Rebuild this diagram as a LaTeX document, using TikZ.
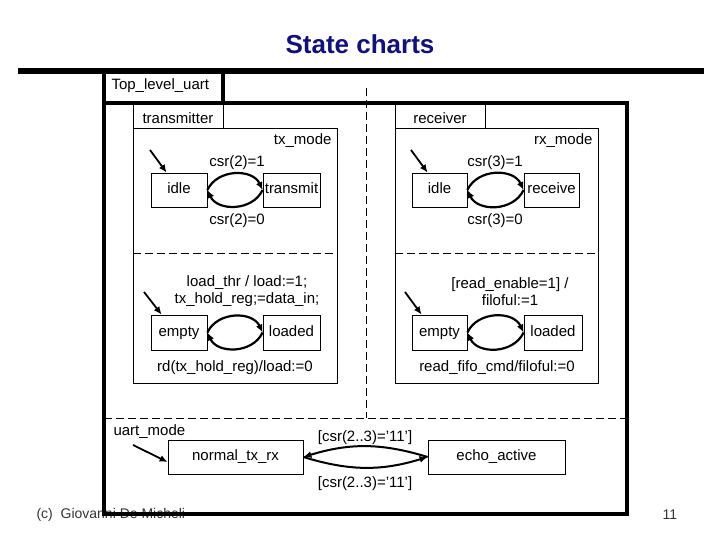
\documentclass[tikz,border=0pt]{standalone}
\usepackage{fontspec}
\setmainfont{Liberation Sans}
\usetikzlibrary{arrows.meta}

\definecolor{titleblue}{RGB}{16,16,128}

\tikzset{
  every node/.style={font=\fontsize{15}{17}\selectfont},
  state/.style={draw, line width=0.8pt, minimum height=34pt, inner sep=1pt,
    text height=11pt, text depth=3pt},
  trans/.style={line width=2.2pt, -{Latex[length=8pt,width=7pt]}},
  init/.style={line width=1.8pt, -{Latex[length=8pt,width=7pt]}},
  divider/.style={line width=0.9pt, dash pattern=on 8pt off 4pt},
}

\begin{document}
\begin{tikzpicture}[x=1pt,y=1pt]
\useasboundingbox (0,0) rectangle (720,540);

% title and rule
\node[font=\fontsize{26}{30}\selectfont\bfseries, text=titleblue] (title) at (360,496) {State charts};
\draw[line width=6pt] (18,469) -- (704,469);

% footer (under the frame)
\node[anchor=west, text=black!80, font=\fontsize{14}{16}\selectfont] (credit) at (33,25) {(c)\ \ Giovanni De Micheli};
\node[text=black!80, font=\fontsize{14}{16}\selectfont] (page) at (670,25) {11};

% outer frame
\draw[line width=3.5pt] (104,469) -- (104,437);
\draw[line width=3.5pt] (223,469) -- (223,437);
\draw[line width=3.5pt] (104,437) rectangle (627,26);
\node[anchor=west] (top) at (108,454) {Top\_level\_uart};

% and-split
\draw[divider] (366,452) -- (366,122);
\draw[divider] (104,122) -- (627,122);

% transmitter
\begin{scope}[line width=0.8pt]
\draw (133,437) rectangle (223,412);
\draw (133,412) rectangle (337,157);
\draw[divider, line width=0.8pt] (133,287) -- (337,287);
\end{scope}
\node (txname) at (178,422) {transmitter};
\node[anchor=east] (txmode) at (335,399) {tx\_mode};

\node[state, minimum width=56pt] (txidle) at (179,350) {idle};
\node[state, minimum width=57pt] (txsend) at (291.5,350) {transmit};
\node (txon) at (237,377) {csr(2)=1};
\node (txoff) at (237,319) {csr(2)=0};
\coordinate (txstart) at (150,390);
\draw[init] (txstart) -- ([xshift=16pt]txidle.north west);
\draw[trans] (txidle.east) to[out=65,in=115,looseness=1.1] (txsend.west);
\draw[trans] (txsend.west) to[out=-115,in=-65,looseness=1.1] (txidle.east);

\node[state, minimum width=56pt, minimum height=35pt] (txempty) at (179,207.5) {empty};
\node[state, minimum width=57pt, minimum height=35pt] (txloaded) at (291.5,207.5) {loaded};
\node[align=center] (txload) at (247,248.5) {load\_thr / load:=1;\\tx\_hold\_reg;=data\_in;};
\node (txrd) at (235,172) {rd(tx\_hold\_reg)/load:=0};
\coordinate (txbuf) at (144,248);
\draw[init] (txbuf) -- ([xshift=11pt]txempty.north west);
\draw[trans] (txempty.east) to[out=65,in=115,looseness=1.1] (txloaded.west);
\draw[trans] (txloaded.west) to[out=-115,in=-65,looseness=1.1] (txempty.east);

% receiver
\begin{scope}[line width=0.8pt]
\draw (395,437) rectangle (485,412);
\draw (395,412) rectangle (598,157);
\draw[divider, line width=0.8pt] (395,287) -- (598,287);
\end{scope}
\node (rxname) at (440,422) {receiver};
\node[anchor=east] (rxmode) at (596,399) {rx\_mode};

\node[state, minimum width=55pt] (rxidle) at (439.5,350) {idle};
\node[state, minimum width=55pt] (rxrecv) at (551.5,350) {receive};
\node (rxon) at (495,377) {csr(3)=1};
\node (rxoff) at (495,319) {csr(3)=0};
\coordinate (rxstart) at (411,390);
\draw[init] (rxstart) -- ([xshift=16pt]rxidle.north west);
\draw[trans] (rxidle.east) to[out=65,in=115,looseness=1.1] (rxrecv.west);
\draw[trans] (rxrecv.west) to[out=-115,in=-65,looseness=1.1] (rxidle.east);

\node[state, minimum width=55pt, minimum height=35pt] (rxempty) at (439.5,207.5) {empty};
\node[state, minimum width=58pt, minimum height=35pt] (rxloaded) at (553,207.5) {loaded};
\node[align=center] (rxread) at (510,248.5) {[read\_enable=1] /\\filoful:=1};
\node (rxfifo) at (497,172) {read\_fifo\_cmd/filoful:=0};
\coordinate (rxbuf) at (405,248);
\draw[init] (rxbuf) -- ([xshift=10pt]rxempty.north west);
\draw[trans] (rxempty.east) to[out=65,in=115,looseness=1.1] (rxloaded.west);
\draw[trans] (rxloaded.west) to[out=-115,in=-65,looseness=1.1] (rxempty.east);

% uart_mode
\node[anchor=west] (mode) at (110,108) {uart\_mode};
\node[state, minimum width=135pt] (normal) at (235.5,83) {normal\_tx\_rx};
\node[state, minimum width=137pt] (echo) at (496.5,83) {echo\_active};
\node (toecho) at (365,102) {[csr(2..3)='11']};
\node (tonormal) at (365,56) {[csr(2..3)='11']};
\coordinate (modestart) at (133,95);
\draw[init] (modestart) -- ([yshift=-5pt]normal.west);
\draw[trans, line width=2pt] (echo.west) to[bend right=17] (normal.east);
\draw[trans, line width=2pt] (normal.east) to[bend right=17] (echo.west);

\end{tikzpicture}
\end{document}
